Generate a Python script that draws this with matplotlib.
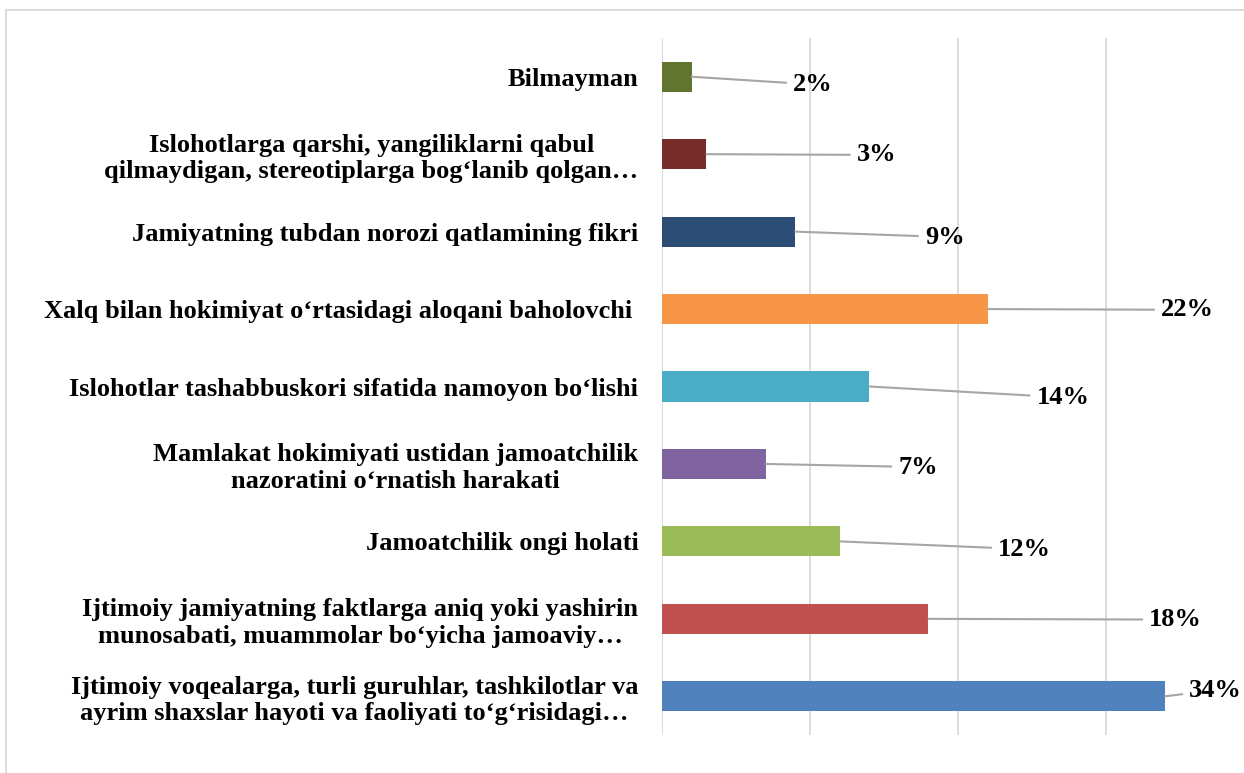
import matplotlib.pyplot as plt
from matplotlib.patches import Rectangle

# Data (top to bottom)
categories = [
    "Bilmayman",
    "Islohotlarga qarshi, yangiliklarni qabul\nqilmaydigan, stereotiplarga bog‘lanib qolgan…",
    "Jamiyatning tubdan norozi qatlamining fikri",
    "Xalq bilan hokimiyat o‘rtasidagi aloqani baholovchi ",
    "Islohotlar tashabbuskori sifatida namoyon bo‘lishi",
    "Mamlakat hokimiyati ustidan jamoatchilik\nnazoratini o‘rnatish harakati",
    "Jamoatchilik ongi holati",
    "Ijtimoiy jamiyatning faktlarga aniq yoki yashirin\nmunosabati, muammolar bo‘yicha jamoaviy…",
    "Ijtimoiy voqealarga, turli guruhlar, tashkilotlar va\nayrim shaxslar hayoti va faoliyati to‘g‘risidagi…",
]
values = [0.02, 0.03, 0.09, 0.22, 0.14, 0.07, 0.12, 0.18, 0.34]
colors = ["#627530", "#772C2A", "#2C4D75", "#F79646", "#4BACC6",
          "#8064A2", "#9BBB59", "#C0504D", "#4F81BD"]

# data label placement (x in data units, y shift in category units)
label_x = [0.102, 0.145, 0.191, 0.355, 0.271, 0.173, 0.245, 0.347, 0.374]
label_dy = [0.10, 0.01, 0.07, 0.01, 0.14, 0.04, 0.10, 0.01, -0.08]

plt.rcParams['font.family'] = ['Liberation Serif', 'DejaVu Serif']

fig = plt.figure(figsize=(12.44, 7.73), dpi=100)
ax = fig.add_axes([662/1244, 38/773, (1226-662)/1244, (735-38)/773])

ypos = list(range(len(categories)))
ax.barh(ypos, values, height=0.39, color=colors, zorder=3)
ax.set_ylim(len(categories) - 0.5, -0.5)
ax.set_xlim(0, 0.381)
ax.set_xticks([0, 0.1, 0.2, 0.3])
ax.set_xticklabels([])
ax.grid(axis='x', color='#d9d9d9', linewidth=1.3, zorder=0)
ax.tick_params(axis='both', length=0)
ax.tick_params(axis='y', pad=17)
ax.set_yticks(ypos)
ax.set_yticklabels(categories, fontsize=19, fontweight='bold',
                   multialignment='center', linespacing=1.2)
for s in ax.spines.values():
    s.set_visible(False)

for i, v in enumerate(values):
    ax.annotate(f"{round(v * 100)}%", xy=(v, i), xytext=(label_x[i], i + label_dy[i]),
                ha='center', va='center', fontsize=19, fontweight='bold',
                arrowprops=dict(arrowstyle='-', color='#a6a6a6', lw=1.5,
                                shrinkA=3, shrinkB=0),
                annotation_clip=False, zorder=4)

fig.patches.append(Rectangle((6/1244, -0.01), 1.05, 1 - 10/773 + 0.01,
                             transform=fig.transFigure, fill=False,
                             edgecolor='#d9d9d9', linewidth=1.3))

fig.savefig('out.png', dpi=100)
